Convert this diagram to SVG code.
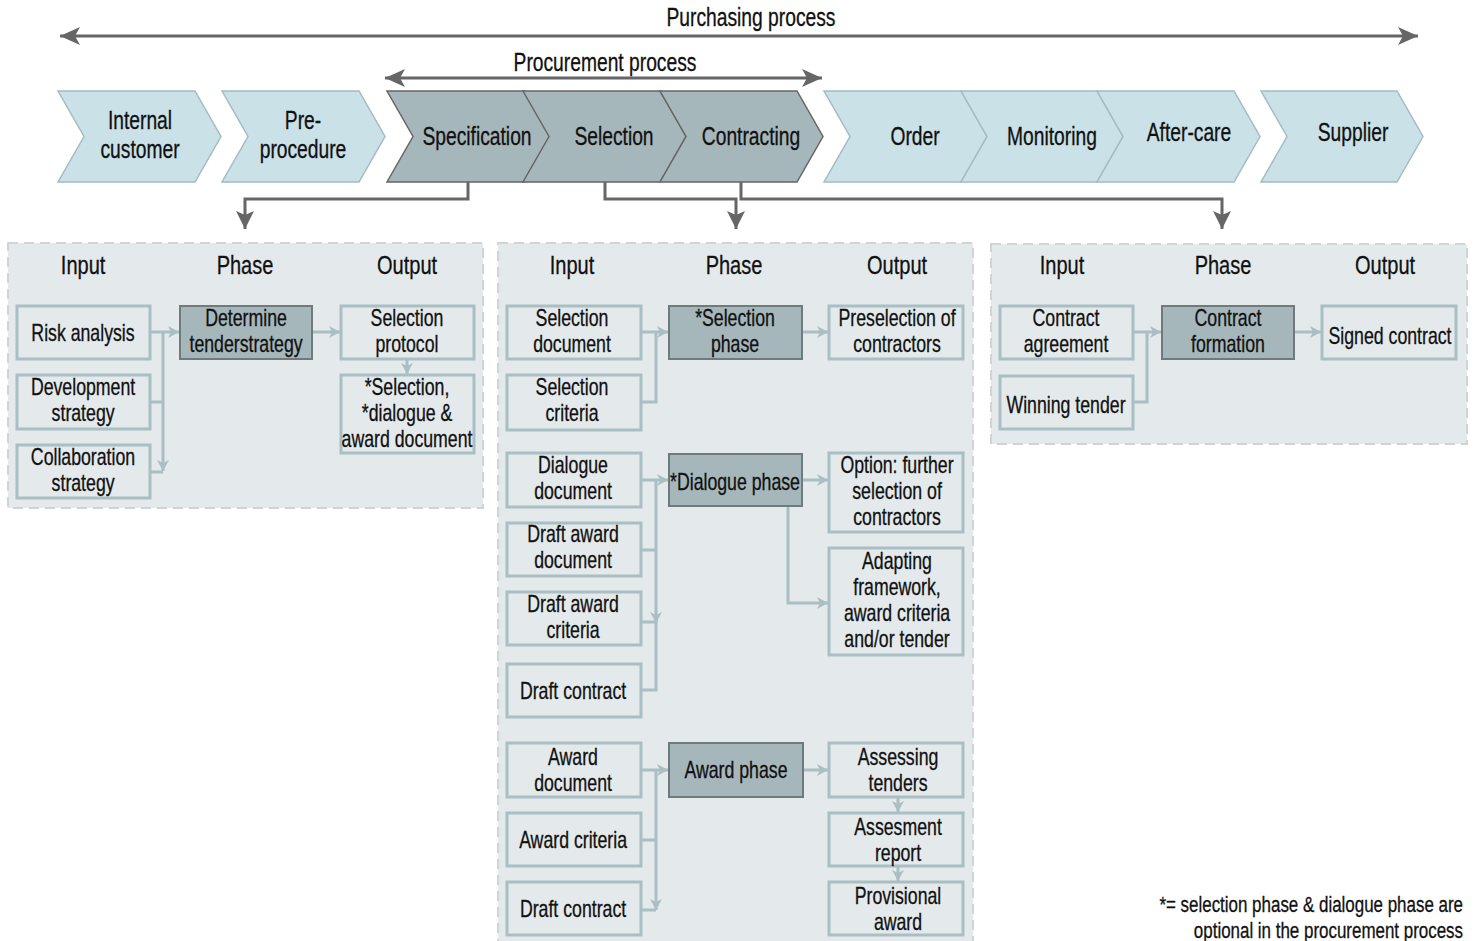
<svg xmlns="http://www.w3.org/2000/svg" width="1476" height="941" viewBox="0 0 1476 941">
  <style>
    text { font-family: "Liberation Sans", Arial, sans-serif; fill: #111; stroke: #111; stroke-width: 0.3; text-anchor: middle;
           transform-box: fill-box; transform-origin: center; transform: scaleX(0.77); }
    .title { font-size: 25px; }
    .chev-t { font-size: 25px; }
    .head { font-size: 26px; }
    .lbl { font-size: 23px; }
    .note { font-size: 22px; text-anchor: end; transform-origin: right; }
    .chev-l { fill: #c9e1e7; stroke: #a3bcc2; stroke-width: 1.5; }
    .chev-d { fill: #a6b7bb; stroke: #666; stroke-width: 1.5; }
    .panel { fill: #e4e9eb; stroke: #cfd5d7; stroke-width: 2; stroke-dasharray: 10 6; }
    .box { fill: #e4e9eb; stroke: #a9bfc4; stroke-width: 3; }
    .phase { fill: #a6b7bb; stroke: #6e7a7c; stroke-width: 2; }
    .dk { fill: none; stroke: #666; stroke-width: 3; }
    .lt { fill: none; stroke: #a9bfc4; stroke-width: 3; }
  </style>
  <defs>
    <marker id="ahDark" markerUnits="userSpaceOnUse" markerWidth="22" markerHeight="18" refX="20" refY="9" orient="auto-start-reverse">
      <path d="M0,0 L20,9 L0,18 L5,9 Z" fill="#666"/>
    </marker>
    <marker id="ahDown" markerUnits="userSpaceOnUse" markerWidth="20" markerHeight="18" refX="18" refY="9" orient="auto">
      <path d="M0,0 L18,9 L0,18 L4,9 Z" fill="#666"/>
    </marker>
    <marker id="ahLight" markerUnits="userSpaceOnUse" markerWidth="12" markerHeight="12" refX="11" refY="6" orient="auto">
      <path d="M0,0 L11,6 L0,12 L3,6 Z" fill="#a9bfc4"/>
    </marker>
  </defs>

  <!-- process span arrows -->
  <g id="spans">
    <text class="title" x="751" y="26">Purchasing process</text>
    <line class="dk" x1="60" y1="36" x2="1418" y2="36" marker-start="url(#ahDark)" marker-end="url(#ahDark)"/>
    <text class="title" x="605" y="71">Procurement process</text>
    <line class="dk" x1="385" y1="78" x2="822" y2="78" marker-start="url(#ahDark)" marker-end="url(#ahDark)"/>
  </g>

  <!-- process chevrons -->
  <g id="chev-internal-customer">
    <polygon class="chev-l" points="58,91 195,91 221,136.5 195,182 58,182 84,136.5"/>
    <text class="chev-t" x="140" y="129">Internal</text>
    <text class="chev-t" x="140" y="158">customer</text>
  </g>
  <g id="chev-pre-procedure">
    <polygon class="chev-l" points="222,91 359,91 385,136.5 359,182 222,182 248,136.5"/>
    <text class="chev-t" x="303" y="129">Pre-</text>
    <text class="chev-t" x="303" y="158">procedure</text>
  </g>
  <g id="chev-specification">
    <polygon class="chev-d" points="387,91 524,91 550,136.5 524,182 387,182 413,136.5"/>
    <text class="chev-t" x="477" y="145">Specification</text>
  </g>
  <g id="chev-selection">
    <polygon class="chev-d" points="523,91 660,91 686,136.5 660,182 523,182 549,136.5"/>
    <text class="chev-t" x="614" y="145">Selection</text>
  </g>
  <g id="chev-contracting">
    <polygon class="chev-d" points="660,91 797,91 823,136.5 797,182 660,182 686,136.5"/>
    <text class="chev-t" x="751" y="145">Contracting</text>
  </g>
  <g id="chev-order">
    <polygon class="chev-l" points="824,91 961,91 987,136.5 961,182 824,182 850,136.5"/>
    <text class="chev-t" x="915" y="145">Order</text>
  </g>
  <g id="chev-monitoring">
    <polygon class="chev-l" points="961,91 1097,91 1123,136.5 1097,182 961,182 987,136.5"/>
    <text class="chev-t" x="1052" y="145">Monitoring</text>
  </g>
  <g id="chev-after-care">
    <polygon class="chev-l" points="1097,91 1234,91 1260,136.5 1234,182 1097,182 1123,136.5"/>
    <text class="chev-t" x="1189" y="141">After-care</text>
  </g>
  <g id="chev-supplier">
    <polygon class="chev-l" points="1261,91 1397,91 1423,136.5 1397,182 1261,182 1287,136.5"/>
    <text class="chev-t" x="1353" y="141">Supplier</text>
  </g>

  <!-- panels -->
  <g id="panel-specification">
    <rect class="panel" x="8" y="243" width="475" height="265"/>
    <text class="head" x="83" y="274">Input</text>
    <text class="head" x="245" y="274">Phase</text>
    <text class="head" x="407" y="274">Output</text>
  </g>
  <g id="panel-selection">
    <rect class="panel" x="498" y="243" width="475" height="710"/>
    <text class="head" x="572" y="274">Input</text>
    <text class="head" x="734" y="274">Phase</text>
    <text class="head" x="897" y="274">Output</text>
  </g>
  <g id="panel-contracting">
    <rect class="panel" x="991" y="244" width="476" height="200"/>
    <text class="head" x="1062" y="274">Input</text>
    <text class="head" x="1223" y="274">Phase</text>
    <text class="head" x="1385" y="274">Output</text>
  </g>

  <!-- connectors -->
  <g id="connectors">
    <!-- chevrons to panels -->
    <path class="dk" d="M468,182 V199 H245 V229" marker-end="url(#ahDown)"/>
    <path class="dk" d="M605,182 V199 H736 V229" marker-end="url(#ahDown)"/>
    <path class="dk" d="M741,182 V199 H1222 V229" marker-end="url(#ahDown)"/>

    <!-- specification panel -->
    <path class="lt" d="M150,332 H179" marker-end="url(#ahLight)"/>
    <path class="lt" d="M163,332 V471" marker-end="url(#ahLight)"/>
    <path class="lt" d="M150,402 H163"/>
    <path class="lt" d="M150,472 H163"/>
    <path class="lt" d="M312,332 H340" marker-end="url(#ahLight)"/>
    <path class="lt" d="M407,359 V374" marker-end="url(#ahLight)"/>

    <!-- selection phase -->
    <path class="lt" d="M641,332 H668" marker-end="url(#ahLight)"/>
    <path class="lt" d="M656,332 V402 H641"/>
    <path class="lt" d="M802,332 H828" marker-end="url(#ahLight)"/>

    <!-- dialogue phase -->
    <path class="lt" d="M641,480 H668" marker-end="url(#ahLight)"/>
    <path class="lt" d="M656,480 V623" marker-end="url(#ahLight)"/>
    <path class="lt" d="M656,620 V690 H641"/>
    <path class="lt" d="M641,550 H656"/>
    <path class="lt" d="M641,622 H656"/>
    <path class="lt" d="M802,480 H828" marker-end="url(#ahLight)"/>
    <path class="lt" d="M788,506 V603 H828" marker-end="url(#ahLight)"/>

    <!-- award phase -->
    <path class="lt" d="M641,770 H668" marker-end="url(#ahLight)"/>
    <path class="lt" d="M656,770 V910" marker-end="url(#ahLight)"/>
    <path class="lt" d="M641,840 H656"/>
    <path class="lt" d="M641,910 H656"/>
    <path class="lt" d="M803,770 H828" marker-end="url(#ahLight)"/>
    <path class="lt" d="M898,797 V812" marker-end="url(#ahLight)"/>
    <path class="lt" d="M898,866 V881" marker-end="url(#ahLight)"/>

    <!-- contracting panel -->
    <path class="lt" d="M1133,332 H1161" marker-end="url(#ahLight)"/>
    <path class="lt" d="M1147,332 V402 H1133"/>
    <path class="lt" d="M1294,332 H1321" marker-end="url(#ahLight)"/>
  </g>

  <!-- specification panel nodes -->
  <g id="risk-analysis">
    <rect class="box" x="17" y="306" width="133" height="53"/>
    <text class="lbl" x="83" y="341">Risk analysis</text>
  </g>
  <g id="development-strategy">
    <rect class="box" x="17" y="375" width="133" height="54"/>
    <text class="lbl" x="83" y="395">Development</text>
    <text class="lbl" x="83" y="421">strategy</text>
  </g>
  <g id="collaboration-strategy">
    <rect class="box" x="17" y="445" width="133" height="53"/>
    <text class="lbl" x="83" y="465">Collaboration</text>
    <text class="lbl" x="83" y="491">strategy</text>
  </g>
  <g id="determine-tenderstrategy">
    <rect class="phase" x="180" y="306" width="132" height="53"/>
    <text class="lbl" x="246" y="326">Determine</text>
    <text class="lbl" x="246" y="352">tenderstrategy</text>
  </g>
  <g id="selection-protocol">
    <rect class="box" x="341" y="306" width="133" height="53"/>
    <text class="lbl" x="407" y="326">Selection</text>
    <text class="lbl" x="407" y="352">protocol</text>
  </g>
  <g id="selection-dialogue-award-document">
    <rect class="box" x="341" y="375" width="133" height="78"/>
    <text class="lbl" x="407" y="395">*Selection,</text>
    <text class="lbl" x="407" y="421">*dialogue &amp;</text>
    <text class="lbl" x="407" y="447">award document</text>
  </g>

  <!-- selection panel nodes -->
  <g id="selection-document">
    <rect class="box" x="507" y="306" width="134" height="53"/>
    <text class="lbl" x="572" y="326">Selection</text>
    <text class="lbl" x="572" y="352">document</text>
  </g>
  <g id="selection-criteria">
    <rect class="box" x="507" y="375" width="134" height="55"/>
    <text class="lbl" x="572" y="395">Selection</text>
    <text class="lbl" x="572" y="421">criteria</text>
  </g>
  <g id="selection-phase">
    <rect class="phase" x="669" y="306" width="133" height="53"/>
    <text class="lbl" x="735" y="326">*Selection</text>
    <text class="lbl" x="735" y="352">phase</text>
  </g>
  <g id="preselection-of-contractors">
    <rect class="box" x="829" y="306" width="134" height="53"/>
    <text class="lbl" x="897" y="326">Preselection of</text>
    <text class="lbl" x="897" y="352">contractors</text>
  </g>

  <g id="dialogue-document">
    <rect class="box" x="507" y="453" width="134" height="54"/>
    <text class="lbl" x="573" y="473">Dialogue</text>
    <text class="lbl" x="573" y="499">document</text>
  </g>
  <g id="draft-award-document">
    <rect class="box" x="507" y="523" width="134" height="53"/>
    <text class="lbl" x="573" y="542">Draft award</text>
    <text class="lbl" x="573" y="568">document</text>
  </g>
  <g id="draft-award-criteria">
    <rect class="box" x="507" y="592" width="134" height="53"/>
    <text class="lbl" x="573" y="612">Draft award</text>
    <text class="lbl" x="573" y="638">criteria</text>
  </g>
  <g id="draft-contract-1">
    <rect class="box" x="507" y="664" width="134" height="53"/>
    <text class="lbl" x="573" y="699">Draft contract</text>
  </g>
  <g id="dialogue-phase">
    <rect class="phase" x="669" y="454" width="133" height="52"/>
    <text class="lbl" x="735" y="490">*Dialogue phase</text>
  </g>
  <g id="option-further-selection">
    <rect class="box" x="829" y="453" width="134" height="79"/>
    <text class="lbl" x="897" y="473">Option: further</text>
    <text class="lbl" x="897" y="499">selection of</text>
    <text class="lbl" x="897" y="525">contractors</text>
  </g>
  <g id="adapting-framework">
    <rect class="box" x="829" y="548" width="134" height="107"/>
    <text class="lbl" x="897" y="569">Adapting</text>
    <text class="lbl" x="897" y="595">framework,</text>
    <text class="lbl" x="897" y="621">award criteria</text>
    <text class="lbl" x="897" y="647">and/or tender</text>
  </g>

  <g id="award-document">
    <rect class="box" x="507" y="743" width="134" height="54"/>
    <text class="lbl" x="573" y="765">Award</text>
    <text class="lbl" x="573" y="791">document</text>
  </g>
  <g id="award-criteria">
    <rect class="box" x="507" y="813" width="134" height="53"/>
    <text class="lbl" x="573" y="848">Award criteria</text>
  </g>
  <g id="draft-contract-2">
    <rect class="box" x="507" y="882" width="134" height="53"/>
    <text class="lbl" x="573" y="917">Draft contract</text>
  </g>
  <g id="award-phase">
    <rect class="phase" x="669" y="743" width="134" height="54"/>
    <text class="lbl" x="736" y="778">Award phase</text>
  </g>
  <g id="assessing-tenders">
    <rect class="box" x="829" y="743" width="134" height="54"/>
    <text class="lbl" x="898" y="765">Assessing</text>
    <text class="lbl" x="898" y="791">tenders</text>
  </g>
  <g id="assesment-report">
    <rect class="box" x="829" y="813" width="134" height="53"/>
    <text class="lbl" x="898" y="835">Assesment</text>
    <text class="lbl" x="898" y="861">report</text>
  </g>
  <g id="provisional-award">
    <rect class="box" x="829" y="882" width="134" height="53"/>
    <text class="lbl" x="898" y="904">Provisional</text>
    <text class="lbl" x="898" y="930">award</text>
  </g>

  <!-- contracting panel nodes -->
  <g id="contract-agreement">
    <rect class="box" x="1000" y="306" width="133" height="53"/>
    <text class="lbl" x="1066" y="326">Contract</text>
    <text class="lbl" x="1066" y="352">agreement</text>
  </g>
  <g id="winning-tender">
    <rect class="box" x="1000" y="376" width="133" height="53"/>
    <text class="lbl" x="1066" y="413">Winning tender</text>
  </g>
  <g id="contract-formation">
    <rect class="phase" x="1162" y="306" width="132" height="53"/>
    <text class="lbl" x="1228" y="326">Contract</text>
    <text class="lbl" x="1228" y="352">formation</text>
  </g>
  <g id="signed-contract">
    <rect class="box" x="1322" y="306" width="134" height="53"/>
    <text class="lbl" x="1390" y="344">Signed contract</text>
  </g>

  <!-- footnote -->
  <g id="footnote">
    <text class="note" x="1463" y="912">*= selection phase &amp; dialogue phase are</text>
    <text class="note" x="1463" y="938">optional in the procurement process</text>
  </g>
</svg>
